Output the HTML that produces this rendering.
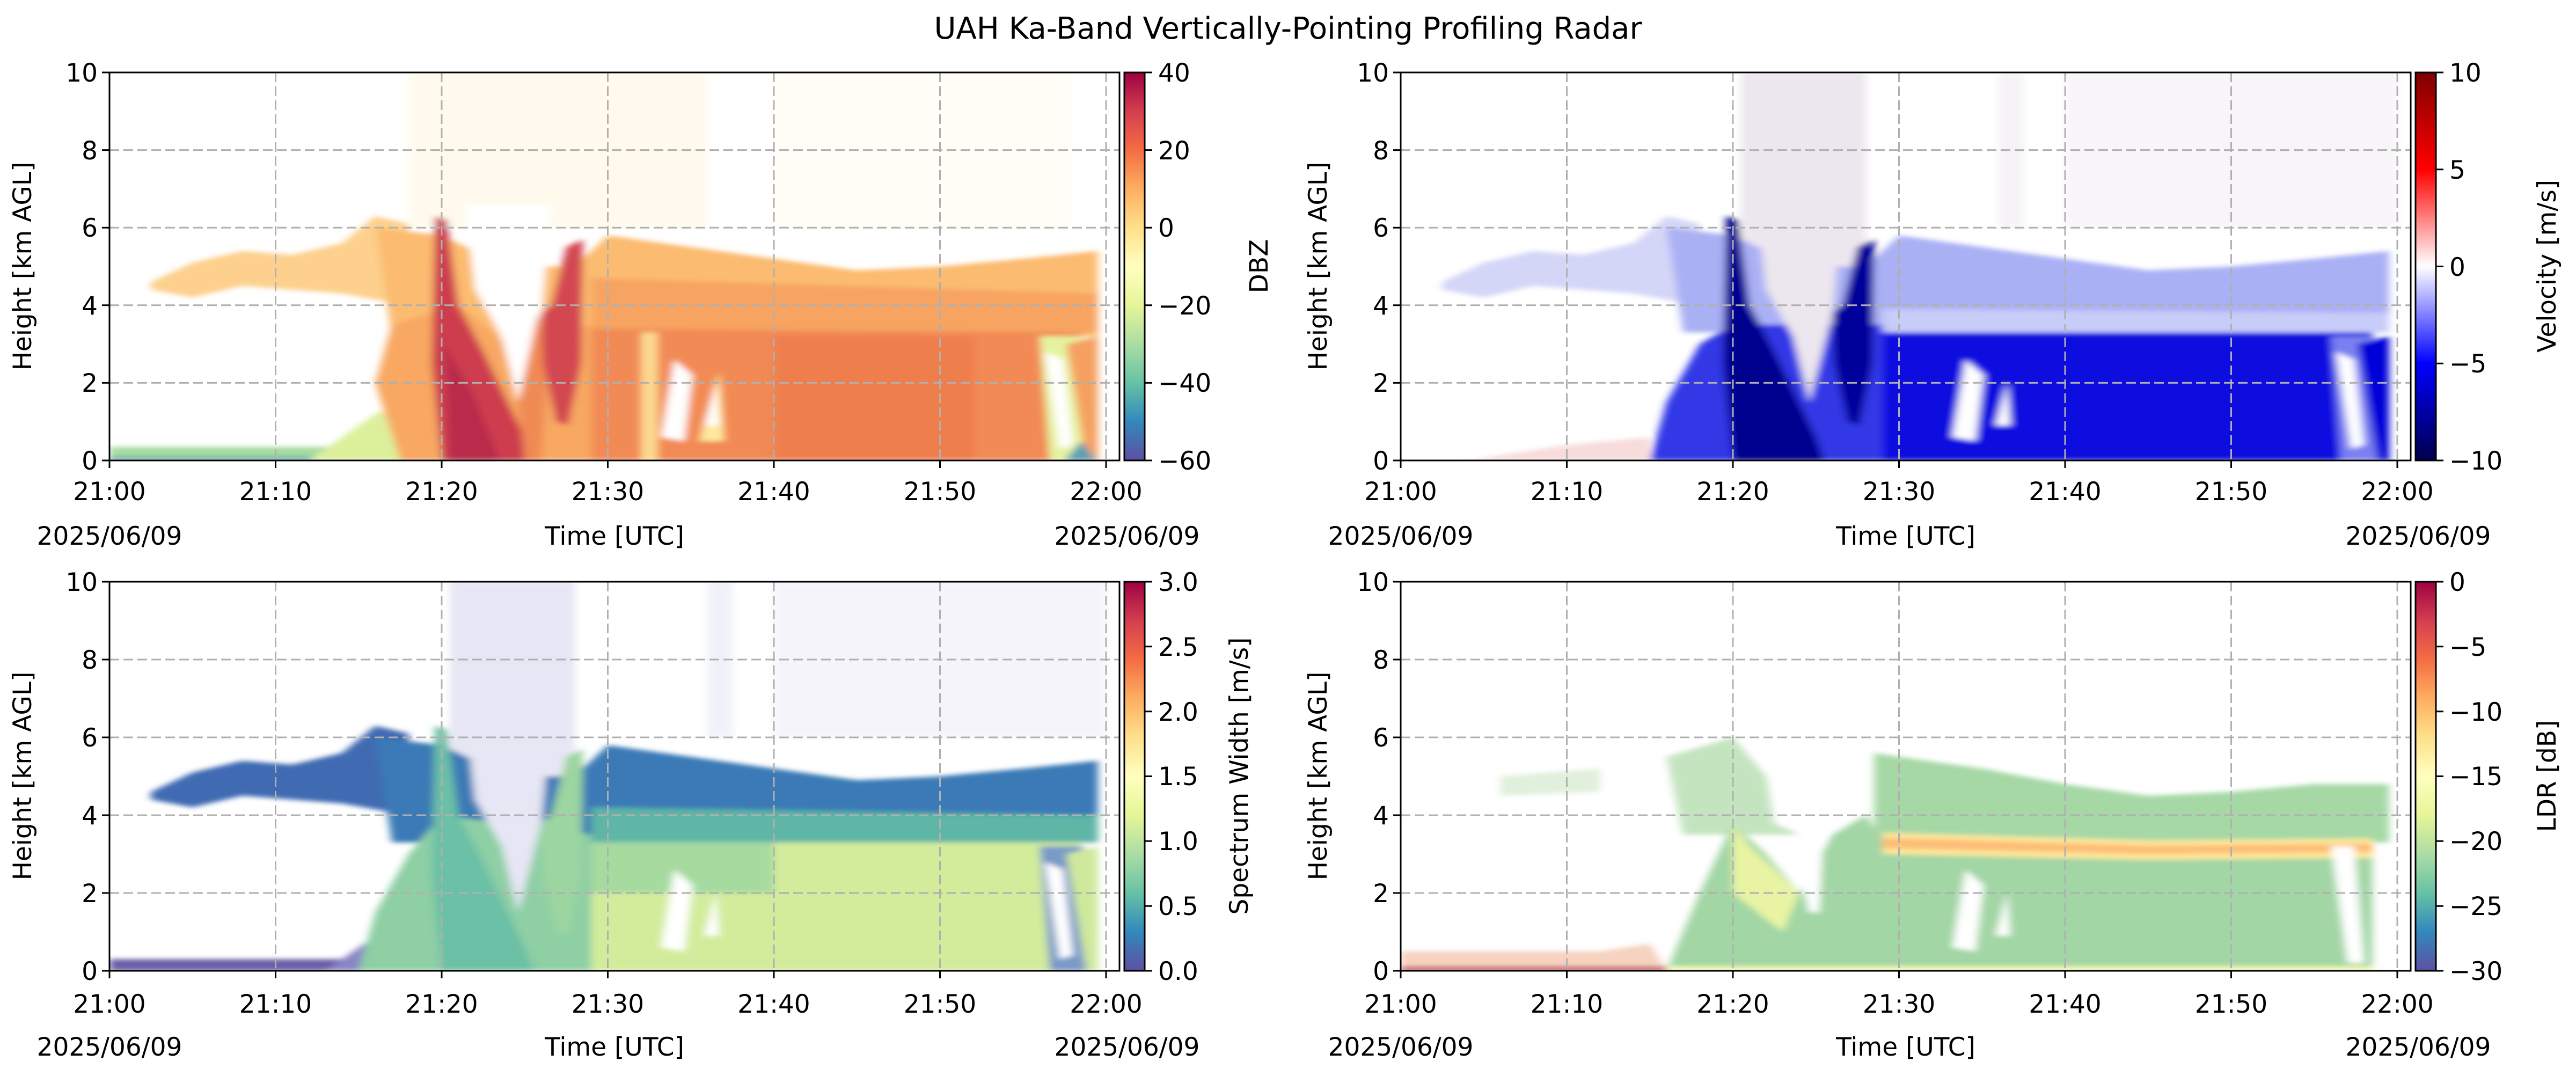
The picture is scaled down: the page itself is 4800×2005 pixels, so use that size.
<!DOCTYPE html>
<html><head><meta charset="utf-8"><style>
html,body{margin:0;padding:0;background:#fff;}
svg text{font-family:"DejaVu Sans","Liberation Sans",sans-serif;fill:#000;}
</style></head><body>
<svg width="4800" height="2000" xmlns="http://www.w3.org/2000/svg">
<defs>
<linearGradient id="spec" x1="0" y1="1" x2="0" y2="0">
<stop offset="0" stop-color="#5e4fa2"/><stop offset="0.1" stop-color="#3288bd"/><stop offset="0.2" stop-color="#66c2a5"/><stop offset="0.3" stop-color="#abdda4"/><stop offset="0.4" stop-color="#e6f598"/><stop offset="0.5" stop-color="#ffffbf"/><stop offset="0.6" stop-color="#fee08b"/><stop offset="0.7" stop-color="#fdae61"/><stop offset="0.8" stop-color="#f46d43"/><stop offset="0.9" stop-color="#d53e4f"/><stop offset="1" stop-color="#9e0142"/>
</linearGradient>
<linearGradient id="seis" x1="0" y1="1" x2="0" y2="0">
<stop offset="0" stop-color="#00004c"/><stop offset="0.25" stop-color="#0000ff"/><stop offset="0.5" stop-color="#ffffff"/><stop offset="0.75" stop-color="#ff0000"/><stop offset="1" stop-color="#800000"/>
</linearGradient>
<filter id="bl" x="-5%" y="-5%" width="110%" height="110%"><feGaussianBlur stdDeviation="0.25 0.06"/></filter>
</defs>

<text x="2400" y="72" font-size="56" text-anchor="middle">UAH Ka-Band Vertically-Pointing Profiling Radar</text>

<!-- ===== Panel 1 DBZ ===== -->
<svg x="204" y="135" width="1882" height="723" viewBox="0 -10 60.8 10" preserveAspectRatio="none">
<g filter="url(#bl)">
<rect x="18" y="-10" width="18" height="4" fill="#fffaec"/>
<rect x="40" y="-10" width="18" height="4" fill="#fffdf6"/>
<polygon fill="#a8dba0" points="0,0 16,0 16,-0.35 0,-0.35"/>
<polygon fill="#5fa9b0" points="0,0 14,0 14,-0.1 0,-0.1"/>
<polygon fill="#dcf09c" points="12,0 18,0 18,-1.5 16,-1.2 14,-0.6"/>
<polygon fill="#fdd08d" points="2.5,-4.6 5,-5.1 8,-5.4 11,-5.3 14,-5.6 16,-6.3 18,-6.1 18,-4.0 14,-4.3 11,-4.4 8,-4.5 5,-4.2 2.5,-4.4"/>
<polygon fill="#fbbb70" points="16,-6 20,-5.8 24,-5.0 28,-5.0 30,-5.8 35,-5.5 40,-5.2 45,-4.9 50,-5.0 55,-5.2 59.5,-5.4 59.5,-3.2 17,-3.2"/>
<polygon fill="#f7a462" points="29,-4.7 59.5,-4.3 59.5,-3.3 29,-3.3"/>
<polygon fill="#f8a862" points="17,-3.5 21,-4 24,-3 29,-3.5 29,0 17.5,0 16,-2"/>
<polygon fill="#f28a54" points="29,-3.4 58.5,-3.3 58.5,0 29,0"/>
<polygon fill="#fdd890" points="32,-3.3 33,-3.3 33,0 32,0"/>
<polygon fill="#ef7e4e" points="40,-3.2 52,-3.2 52,0 40,0"/>
<polygon fill="#cd3e4d" points="19.6,-6.3 20.3,-6.2 21,-4 22.5,-2.8 25,-0.6 25.5,0 20,0 19.4,-2.5"/>
<polygon fill="#b9294c" points="20.2,-3 22,-1.6 23.5,0 20.5,0"/>
<polygon fill="#fff" points="21.4,-6.6 26.6,-6.6 26,-3.8 24.6,-1.5 23.6,-3.2 22,-4.4"/>
<polygon fill="#f08a55" points="24.6,-1.5 25.8,-3.8 26.4,-2.5 26,0 25,0"/>
<polygon fill="#d34651" points="26,-3.8 26.6,-4 27.5,-5.5 28.5,-5.7 28.4,-2.5 27.6,-0.9 26.9,-1 26.1,-2.5"/>
<polygon fill="#fff" points="33.2,-0.6 34.6,-0.5 35.1,-2.2 34,-2.6"/>
<polygon fill="#fde9a0" points="35.5,-0.5 37,-0.5 36.7,-2.3"/>
<polygon fill="#fff" points="35.8,-0.9 36.7,-0.9 36.5,-2"/>
<polygon fill="#e5f3a0" points="56,-3.2 58.6,-3.2 58.8,0 56.6,0"/>
<polygon fill="#fff" points="56.3,-2.8 57.4,-2.6 58,-0.4 57.2,-0.3"/>
<polygon fill="#f5a060" points="57.6,-3 59.5,-3.2 59.5,0 58.8,0"/>
<polygon fill="#5d9fb5" points="57.5,0 59.4,0 58.5,-0.5"/>
</g>
</svg>

<!-- ===== Panel 2 Velocity ===== -->
<svg x="2610" y="135" width="1882" height="723" viewBox="0 -10 60.8 10" preserveAspectRatio="none">
<g filter="url(#bl)">
<rect x="20.5" y="-10" width="7.5" height="6" fill="#ece6ee"/>
<rect x="36" y="-10" width="1.5" height="4" fill="#f6f2f6"/>
<rect x="40" y="-10" width="20" height="4" fill="#f8f5f8"/>
<polygon fill="#f8dcdc" points="4,0 15,0 15,-0.6 10,-0.4"/>
<polygon fill="#d4d6f8" points="2.5,-4.6 5,-5.1 8,-5.4 11,-5.3 14,-5.6 16,-6.3 18,-6.1 18,-4.0 14,-4.3 11,-4.4 8,-4.5 5,-4.2 2.5,-4.4"/>
<polygon fill="#aab0f4" points="16,-6 20,-5.8 24,-5.0 28,-5.0 30,-5.8 35,-5.5 40,-5.2 45,-4.9 50,-5.0 55,-5.2 59.5,-5.4 59.5,-3.3 17,-3.3"/>
<polygon fill="#c8ccf8" points="29,-3.9 59.5,-3.8 59.5,-3.3 29,-3.3"/>
<polygon fill="#3038e6" points="16,-1.5 18,-3 20,-3.5 29,-3.5 29,0 15,0"/>
<polygon fill="#0808e0" points="29,-3.3 58.5,-3.3 58.5,0 29,0"/>
<polygon fill="#00008f" points="19.6,-6.3 20.3,-6.2 21,-4 22.5,-2.8 25,-0.6 25.5,0 20,0 19.4,-2.5"/>
<polygon fill="#ece6ee" points="21.4,-6.6 26.6,-6.6 26,-3.8 24.6,-1.5 23.6,-3.2 22,-4.4"/>
<polygon fill="#00009a" points="26,-3.8 26.6,-4 27.5,-5.5 28.5,-5.7 28.4,-2.5 27.6,-0.9 26.9,-1 26.1,-2.5"/>
<polygon fill="#fff" points="33.2,-0.6 34.6,-0.5 35.1,-2.2 34,-2.6"/>
<polygon fill="#fff" points="35.8,-0.9 36.7,-0.9 36.5,-2"/>
<polygon fill="#7a80f0" points="56,-3.2 58.6,-3.2 58.8,0 56.6,0"/>
<polygon fill="#fff" points="56.3,-2.8 57.4,-2.6 58,-0.4 57.2,-0.3"/>
<polygon fill="#0000d8" points="57.6,-3 59.5,-3.2 59.5,0 58.8,0"/>
</g>
</svg>

<!-- ===== Panel 3 Spectrum width ===== -->
<svg x="204" y="1084" width="1882" height="725" viewBox="0 -10 60.8 10" preserveAspectRatio="none">
<g filter="url(#bl)">
<rect x="20.5" y="-10" width="7.5" height="6" fill="#e6e6f4"/>
<rect x="36" y="-10" width="1.5" height="4" fill="#f0f2fa"/>
<rect x="40" y="-10" width="20" height="4" fill="#f4f4fa"/>
<polygon fill="#6a5fa8" points="0,0 15,0 15,-0.3 0,-0.3"/>
<polygon fill="#8a86c4" points="13,0 18,0 17,-1.2"/>
<polygon fill="#3f6bb2" points="2.5,-4.6 5,-5.1 8,-5.4 11,-5.3 14,-5.6 16,-6.3 18,-6.1 18,-4.0 14,-4.3 11,-4.4 8,-4.5 5,-4.2 2.5,-4.4"/>
<polygon fill="#3a7ab6" points="16,-6 20,-5.8 24,-5.0 28,-5.0 30,-5.8 35,-5.5 40,-5.2 45,-4.9 50,-5.0 55,-5.2 59.5,-5.4 59.5,-3.3 17,-3.3"/>
<polygon fill="#5fb5a6" points="29,-4.2 59.5,-4.0 59.5,-3.3 29,-3.3"/>
<polygon fill="#8ecfa4" points="16,-1.5 18,-3 20,-4 29,-3.5 29,0 15,0"/>
<polygon fill="#d2ec9c" points="29,-3.3 58.5,-3.3 58.5,0 29,0"/>
<polygon fill="#a6da9f" points="29,-3.3 40,-3.3 40,-2 29,-2"/>
<polygon fill="#6cc0a6" points="19.6,-6.3 20.3,-6.2 21,-4 22.5,-2.8 25,-0.6 25.5,0 20,0 19.4,-2.5"/>
<polygon fill="#e6e6f4" points="21.4,-6.6 26.6,-6.6 26,-3.8 24.6,-1.5 23.6,-3.2 22,-4.4"/>
<polygon fill="#9cd5a0" points="26,-3.8 26.6,-4 27.5,-5.5 28.5,-5.7 28.4,-2.5 27.6,-0.9 26.9,-1 26.1,-2.5"/>
<polygon fill="#fff" points="33.2,-0.6 34.6,-0.5 35.1,-2.2 34,-2.6"/>
<polygon fill="#fff" points="35.8,-0.9 36.7,-0.9 36.5,-2"/>
<polygon fill="#7a9ac8" points="56,-3.2 58.6,-3.2 58.8,0 56.6,0"/>
<polygon fill="#fff" points="56.3,-2.8 57.4,-2.6 58,-0.4 57.2,-0.3"/>
<polygon fill="#cfe99c" points="57.6,-3 59.5,-3.2 59.5,0 58.8,0"/>
</g>
</svg>

<!-- ===== Panel 4 LDR ===== -->
<svg x="2610" y="1084" width="1882" height="725" viewBox="0 -10 60.8 10" preserveAspectRatio="none">
<g filter="url(#bl)">
<polygon fill="#f6d2c0" points="0,0 16,0 15,-0.7 12,-0.5 0,-0.5"/>
<polygon fill="#b3104a" points="0,0 16,0 16,-0.1 0,-0.1"/>
<polygon fill="#e0f0dc" points="6,-4.5 12,-4.6 12,-5.2 6,-5"/>
<polygon fill="#c4e4c0" points="16,-5.5 20,-6 22,-5 24,-3.5 17,-3.5"/>
<polygon fill="#a6d8a6" points="28.5,-5.6 30,-5.5 35,-5.2 40,-4.8 45,-4.5 50,-4.6 55,-4.8 59.5,-4.8 59.5,-3.3 28.5,-3.3"/>
<polygon fill="#a2d6a5" points="16,0 18,-2 20,-3.8 22,-3 24,-2 26,-3.5 28,-4 29,-3.3 58.5,-3.3 58.5,0"/>
<polygon fill="#e8f4a4" points="20,-3.8 21,-3.2 24,-2 23,-1 20,-2"/>
<polygon fill="#fee89a" points="29,-3.55 45,-3.35 58.5,-3.4 58.5,-2.9 45,-2.85 29,-3.0"/>
<polygon fill="#fdbd76" points="29,-3.42 45,-3.22 58.5,-3.27 58.5,-3.05 45,-3.0 29,-3.15"/>
<polygon fill="#f0f6b0" points="16,0 58.5,0 58.5,-0.12 16,-0.12"/>
<polygon fill="#fff" points="21.4,-6.6 23.5,-6.6 24,-3.5 22.5,-3.8"/>
<polygon fill="#fff" points="23.6,-3.2 25.5,-4 25.2,-1.5 24.6,-1.5"/>
<polygon fill="#fff" points="33.2,-0.6 34.6,-0.5 35.1,-2.2 34,-2.6"/>
<polygon fill="#fff" points="35.8,-0.9 36.7,-0.9 36.5,-2"/>
<polygon fill="#fff" points="56,-3.2 57.4,-3.2 58,-0.2 57,-0.2"/>
</g>
</svg>

<!-- ===== Grids, spines, ticks ===== -->
<g stroke-width="3" fill="none">
<g stroke="#b0b0b0" stroke-dasharray="18 8">
<path d="M513.5 135V858M823 135V858M1132.5 135V858M1442 135V858M1751.5 135V858M2061 135V858"/>
<path d="M204 713.4H2086M204 568.8H2086M204 424.2H2086M204 279.6H2086"/>
<path d="M2919.5 135V858M3229 135V858M3538.5 135V858M3848 135V858M4157.5 135V858M4467 135V858"/>
<path d="M2610 713.4H4492M2610 568.8H4492M2610 424.2H4492M2610 279.6H4492"/>
<path d="M513.5 1084V1809M823 1084V1809M1132.5 1084V1809M1442 1084V1809M1751.5 1084V1809M2061 1084V1809"/>
<path d="M204 1664H2086M204 1519H2086M204 1374H2086M204 1229H2086"/>
<path d="M2919.5 1084V1809M3229 1084V1809M3538.5 1084V1809M3848 1084V1809M4157.5 1084V1809M4467 1084V1809"/>
<path d="M2610 1664H4492M2610 1519H4492M2610 1374H4492M2610 1229H4492"/>
</g>
<g stroke="#000">
<rect x="204" y="135" width="1882" height="723"/>
<rect x="2610" y="135" width="1882" height="723"/>
<rect x="204" y="1084" width="1882" height="725"/>
<rect x="2610" y="1084" width="1882" height="725"/>
<path d="M204 858v14M513.5 858v14M823 858v14M1132.5 858v14M1442 858v14M1751.5 858v14M2061 858v14"/>
<path d="M2610 858v14M2919.5 858v14M3229 858v14M3538.5 858v14M3848 858v14M4157.5 858v14M4467 858v14"/>
<path d="M204 1809v14M513.5 1809v14M823 1809v14M1132.5 1809v14M1442 1809v14M1751.5 1809v14M2061 1809v14"/>
<path d="M2610 1809v14M2919.5 1809v14M3229 1809v14M3538.5 1809v14M3848 1809v14M4157.5 1809v14M4467 1809v14"/>
<path d="M204 858h-14M204 713.4h-14M204 568.8h-14M204 424.2h-14M204 279.6h-14M204 135h-14"/>
<path d="M2610 858h-14M2610 713.4h-14M2610 568.8h-14M2610 424.2h-14M2610 279.6h-14M2610 135h-14"/>
<path d="M204 1809h-14M204 1664h-14M204 1519h-14M204 1374h-14M204 1229h-14M204 1084h-14"/>
<path d="M2610 1809h-14M2610 1664h-14M2610 1519h-14M2610 1374h-14M2610 1229h-14M2610 1084h-14"/>
</g>
</g>

<rect x="2095" y="135" width="38" height="723" fill="url(#spec)" stroke="#000" stroke-width="3"/>
<rect x="4501" y="135" width="38" height="723" fill="url(#seis)" stroke="#000" stroke-width="3"/>
<rect x="2095" y="1084" width="38" height="725" fill="url(#spec)" stroke="#000" stroke-width="3"/>
<rect x="4501" y="1084" width="38" height="725" fill="url(#spec)" stroke="#000" stroke-width="3"/>
<g stroke="#000" stroke-width="3">
<path d="M2133 135h14M2133 279.6h14M2133 424.2h14M2133 568.8h14M2133 713.4h14M2133 858h14"/>
<path d="M4539 135h14M4539 315.75h14M4539 496.5h14M4539 677.25h14M4539 858h14"/>
<path d="M2133 1084h14M2133 1204.8h14M2133 1325.7h14M2133 1446.5h14M2133 1567.3h14M2133 1688.2h14M2133 1809h14"/>
<path d="M4539 1084h14M4539 1204.8h14M4539 1325.7h14M4539 1446.5h14M4539 1567.3h14M4539 1688.2h14M4539 1809h14"/>
</g>

<g font-size="47">
<g text-anchor="middle">
<text x="204" y="932">21:00</text><text x="513.5" y="932">21:10</text><text x="823" y="932">21:20</text><text x="1132.5" y="932">21:30</text><text x="1442" y="932">21:40</text><text x="1751.5" y="932">21:50</text><text x="2061" y="932">22:00</text>
<text x="2610" y="932">21:00</text><text x="2919.5" y="932">21:10</text><text x="3229" y="932">21:20</text><text x="3538.5" y="932">21:30</text><text x="3848" y="932">21:40</text><text x="4157.5" y="932">21:50</text><text x="4467" y="932">22:00</text>
<text x="204" y="1887">21:00</text><text x="513.5" y="1887">21:10</text><text x="823" y="1887">21:20</text><text x="1132.5" y="1887">21:30</text><text x="1442" y="1887">21:40</text><text x="1751.5" y="1887">21:50</text><text x="2061" y="1887">22:00</text>
<text x="2610" y="1887">21:00</text><text x="2919.5" y="1887">21:10</text><text x="3229" y="1887">21:20</text><text x="3538.5" y="1887">21:30</text><text x="3848" y="1887">21:40</text><text x="4157.5" y="1887">21:50</text><text x="4467" y="1887">22:00</text>
<text x="204" y="1015">2025/06/09</text><text x="1145" y="1015">Time [UTC]</text><text x="2100" y="1015">2025/06/09</text>
<text x="2610" y="1015">2025/06/09</text><text x="3551" y="1015">Time [UTC]</text><text x="4506" y="1015">2025/06/09</text>
<text x="204" y="1967">2025/06/09</text><text x="1145" y="1967">Time [UTC]</text><text x="2100" y="1967">2025/06/09</text>
<text x="2610" y="1967">2025/06/09</text><text x="3551" y="1967">Time [UTC]</text><text x="4506" y="1967">2025/06/09</text>
</g>
<g text-anchor="end">
<text x="182" y="875">0</text><text x="182" y="730">2</text><text x="182" y="586">4</text><text x="182" y="441">6</text><text x="182" y="297">8</text><text x="182" y="152">10</text>
<text x="2588" y="875">0</text><text x="2588" y="730">2</text><text x="2588" y="586">4</text><text x="2588" y="441">6</text><text x="2588" y="297">8</text><text x="2588" y="152">10</text>
<text x="182" y="1826">0</text><text x="182" y="1681">2</text><text x="182" y="1536">4</text><text x="182" y="1391">6</text><text x="182" y="1246">8</text><text x="182" y="1101">10</text>
<text x="2588" y="1826">0</text><text x="2588" y="1681">2</text><text x="2588" y="1536">4</text><text x="2588" y="1391">6</text><text x="2588" y="1246">8</text><text x="2588" y="1101">10</text>
</g>
<text x="2158" y="152">40</text><text x="2158" y="297">20</text><text x="2158" y="441">0</text><text x="2158" y="586">−20</text><text x="2158" y="730">−40</text><text x="2158" y="875">−60</text>
<text x="4564" y="152">10</text><text x="4564" y="333">5</text><text x="4564" y="514">0</text><text x="4564" y="694">−5</text><text x="4564" y="875">−10</text>
<text x="2158" y="1101">3.0</text><text x="2158" y="1222">2.5</text><text x="2158" y="1343">2.0</text><text x="2158" y="1463">1.5</text><text x="2158" y="1584">1.0</text><text x="2158" y="1705">0.5</text><text x="2158" y="1826">0.0</text>
<text x="4564" y="1101">0</text><text x="4564" y="1222">−5</text><text x="4564" y="1343">−10</text><text x="4564" y="1463">−15</text><text x="4564" y="1584">−20</text><text x="4564" y="1705">−25</text><text x="4564" y="1826">−30</text>
<g text-anchor="middle">
<text transform="translate(58,496) rotate(-90)">Height [km AGL]</text>
<text transform="translate(2472,496) rotate(-90)">Height [km AGL]</text>
<text transform="translate(58,1446) rotate(-90)">Height [km AGL]</text>
<text transform="translate(2472,1446) rotate(-90)">Height [km AGL]</text>
<text transform="translate(2362,496) rotate(-90)">DBZ</text>
<text transform="translate(4762,496) rotate(-90)">Velocity [m/s]</text>
<text transform="translate(2325,1446) rotate(-90)">Spectrum Width [m/s]</text>
<text transform="translate(4762,1446) rotate(-90)">LDR [dB]</text>
</g>
</g>
</svg>
</body></html>
